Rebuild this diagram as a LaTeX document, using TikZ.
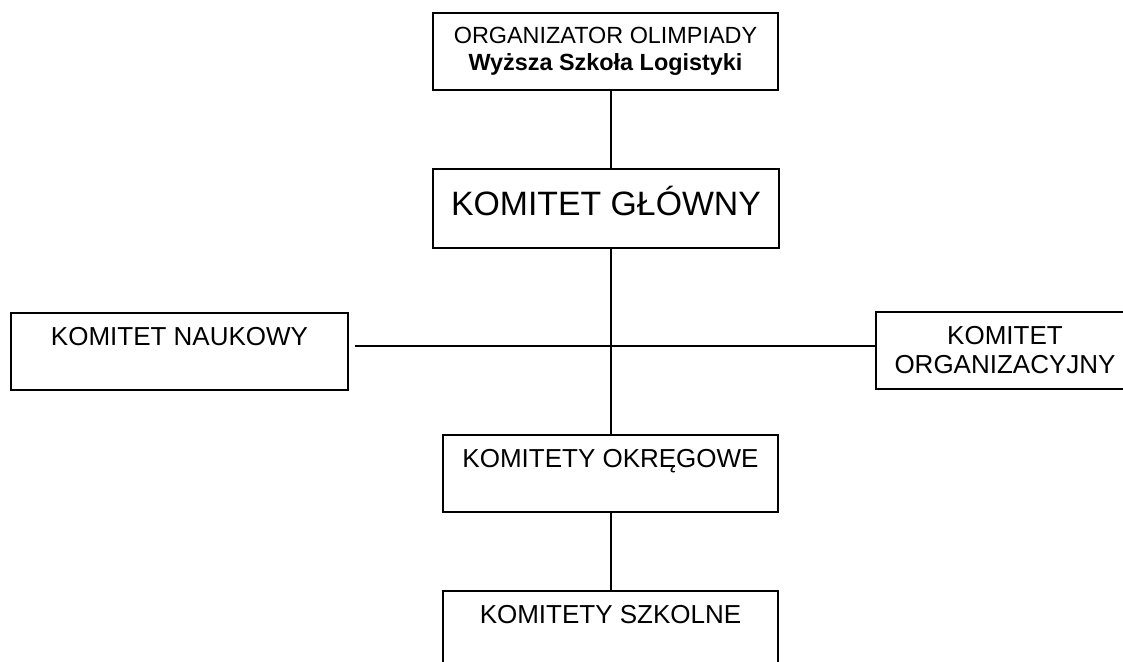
\documentclass[tikz,border=0pt]{standalone}
\usepackage{fontspec}
\setmainfont{Liberation Sans}
\usepackage{tikz}

\begin{document}
\begin{tikzpicture}[x=1pt, y=-1pt, line width=1.8pt,
		box node/.style={rectangle,draw,inner sep=0pt,font=\fontsize{26}{29}\selectfont},
		top node/.style={box node,text height=33pt,text depth=44pt}]

		\useasboundingbox (0,0) rectangle (1123,661);
		\clip (0,0) rectangle (1123,661);

		\coordinate (hub) at (611,346);

		\node[box node, minimum width=345pt, minimum height=77pt, align=center,
			font=\fontsize{23.4}{27}\selectfont] (org) at (605.5,51.5)
			{ORGANIZATOR OLIMPIADY\\\textbf{Wyższa Szkoła Logistyki}};
		\node[box node, minimum width=346pt, text height=47pt, text depth=32pt,
			font=\fontsize{33.8}{38}\selectfont, anchor=north] (glowny) at (606,168) {KOMITET GŁÓWNY};
		\node[top node, minimum width=337pt, anchor=north] (naukowy) at (179.5,312) {KOMITET NAUKOWY};
		\node[box node, minimum width=258pt, minimum height=77pt, align=center] (organiz) at (1005,350.5)
			{KOMITET\\ORGANIZACYJNY};
		\node[top node, minimum width=335pt, anchor=north] (okregowe) at (610.5,434) {KOMITETY OKRĘGOWE};
		\node[top node, minimum width=335pt, anchor=north] (szkolne) at (610.5,590) {KOMITETY SZKOLNE};

		\draw (org.south -| hub) -- (glowny.north -| hub);
		\draw (glowny.south -| hub) -- (okregowe.north -| hub);
		\draw (okregowe.south -| hub) -- (szkolne.north -| hub);
		\draw[shorten <=6pt] (naukowy.east |- hub) -- (organiz.west |- hub);
		\end{tikzpicture}
\end{document}
